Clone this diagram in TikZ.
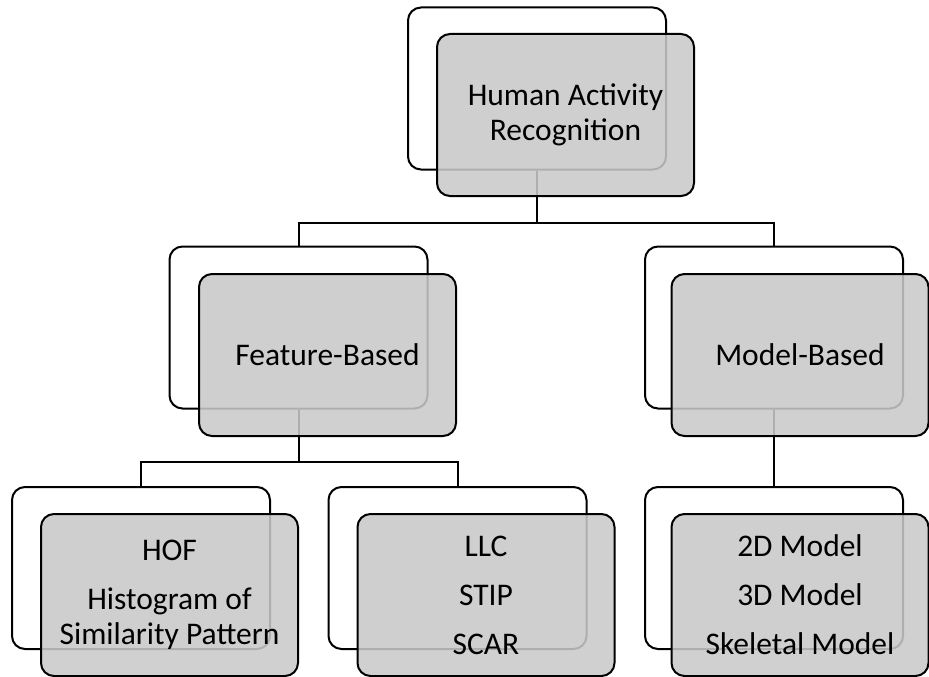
\documentclass[tikz,border=0pt]{standalone}
\usepackage{fontspec}
\setmainfont{Carlito}

\tikzset{
  backbox/.style={draw, line width=2pt, rounded corners=13pt, fill=white,
    minimum width=258pt, minimum height=162pt},
  frontbox/.style={draw=black, line width=2pt, rounded corners=13pt,
    fill=black!21, fill opacity=0.87, text opacity=1,
    minimum width=257pt, minimum height=162pt, align=center,
    font=\fontsize{31.5}{35}\selectfont},
  link/.style={line width=2pt}
}

\begin{document}
\begin{tikzpicture}[x=1pt, y=-1pt]
\useasboundingbox (0,0) rectangle (929,677);

% back boxes
\node (hb) at (537, 88.5) [backbox] {};
\node (fb) at (298.5, 327.5) [backbox] {};
\node (mb) at (774, 327.5) [backbox] {};
\node (ob) at (141, 568) [backbox] {};
\node (lb) at (457.5, 568) [backbox] {};
\node (sb) at (774, 568) [backbox] {};

% connectors
\draw[link] (hb.south) -- ++(0,52) -| (fb.north);
\draw[link] (hb.south) -- ++(0,52) -| (mb.north);
\draw[link] (fb.south) -- ++(0,52) -| (ob.north);
\draw[link] (fb.south) -- ++(0,52) -| (lb.north);
\draw[link] (mb.south) -- (sb.north);

% front boxes
\node (hf) at (565.5, 115) [frontbox] {Human Activity\\Recognition};
\node (ff) at (327.5, 355) [frontbox] {Feature-Based};
\node (mf) at (800, 355) [frontbox] {Model-Based};
\node (of) at (169.5, 595) [frontbox] {HOF\\[14pt]Histogram of\\Similarity Pattern};
\node (lf) at (486, 595) [frontbox] {LLC\\[14pt]STIP\\[14pt]SCAR};
\node (sf) at (800, 595) [frontbox] {2D Model\\[14pt]3D Model\\[14pt]Skeletal Model};
\end{tikzpicture}
\end{document}
